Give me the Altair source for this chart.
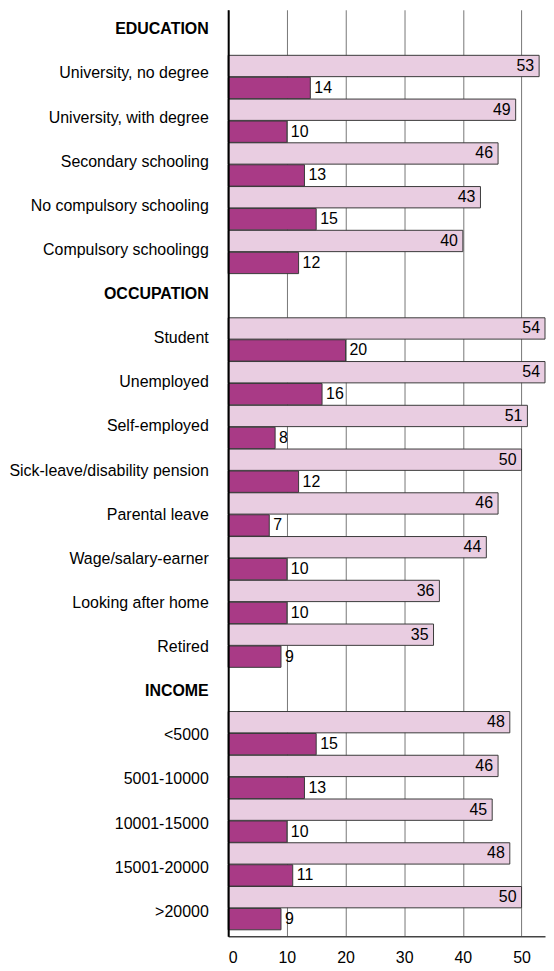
import altair as alt
import pandas as pd

# ---- data ----
rows = [
    "EDUCATION",
    "University, no degree", "University, with degree", "Secondary schooling",
    "No compulsory schooling", "Compulsory schoolingg",
    "OCCUPATION",
    "Student", "Unemployed", "Self-employed", "Sick-leave/disability pension",
    "Parental leave", "Wage/salary-earner", "Looking after home", "Retired",
    "INCOME",
    "<5000", "5001-10000", "10001-15000", "15001-20000", ">20000",
]
headers = ["EDUCATION", "OCCUPATION", "INCOME"]
groups = [r for r in rows if r not in headers]

light_values = [53, 49, 46, 43, 40,
                54, 54, 51, 50, 46, 44, 36, 35,
                48, 46, 45, 48, 50]
dark_values = [14, 10, 13, 15, 12,
               20, 16, 8, 12, 7, 10, 10, 9,
               15, 13, 10, 11, 9]
series_names = ["a", "b"]
x_ticks = [0, 10, 20, 30, 40, 50]

LIGHT = "#E9CDE1"
DARK = "#A93A86"
FONT = "Liberation Sans"

df = pd.DataFrame({
    "cat": groups * 2,
    "series": ["a"] * len(groups) + ["b"] * len(groups),
    "value": light_values + dark_values,
})
label_df = pd.DataFrame({"cat": rows})

headers_js = "[" + ",".join("'%s'" % h for h in headers) + "]"

axis_layer = alt.Chart(label_df).mark_point(opacity=0).encode(
    y=alt.Y(
        "cat:N",
        scale=alt.Scale(domain=rows, paddingInner=0, paddingOuter=0),
        axis=alt.Axis(
            title=None, ticks=False, labelPadding=20, labelLimit=400,
            labelFontSize=16, labelColor="black", labelOffset=-3,
            domainColor="black", domainWidth=2, zindex=1,
            labelFontWeight={
                "condition": {"test": "indexof(%s, datum.value) >= 0" % headers_js,
                              "value": "bold"},
                "value": "normal",
            },
        ),
    )
)

yb = alt.Y("cat:N", scale=alt.Scale(domain=rows, paddingInner=0, paddingOuter=0.09, align=0.2), axis=None)
yo = alt.YOffset("series:N", scale=alt.Scale(domain=series_names, paddingInner=0.03, paddingOuter=0.01))
xq = alt.X(
    "value:Q",
    scale=alt.Scale(domain=[0, 54], nice=False),
    axis=alt.Axis(
        values=x_ticks, title=None, grid=True, gridColor="#777777", gridWidth=1,
        ticks=False, labelFontSize=16, labelPadding=13, labelColor="black",
        domainColor="#444444", domainWidth=1.5,
    ),
)

base = alt.Chart(df)
bars = base.mark_bar(stroke="#3a3a3a", strokeWidth=1).encode(
    x=xq, y=yb, yOffset=yo,
    color=alt.Color("series:N", scale=alt.Scale(domain=series_names, range=[LIGHT, DARK]), legend=None),
)
lab_a = base.transform_filter("datum.series == 'a'").mark_text(
    align="right", baseline="middle", dx=-5, fontSize=16, color="black"
).encode(x="value:Q", y=yb, yOffset=yo, text="value:Q")
lab_b = base.transform_filter("datum.series == 'b'").mark_text(
    align="left", baseline="middle", dx=4, fontSize=16, color="black"
).encode(x="value:Q", y=yb, yOffset=yo, text="value:Q")

inner = alt.layer(bars, lab_a, lab_b)

chart = (
    alt.layer(axis_layer, inner)
    .resolve_scale(y="independent")
    .properties(width=318, height=930, padding=0)
    .configure(font=FONT)
    .configure_view(stroke=None)
)

chart.save("out.html", embed_options={"renderer": "svg", "actions": False})
